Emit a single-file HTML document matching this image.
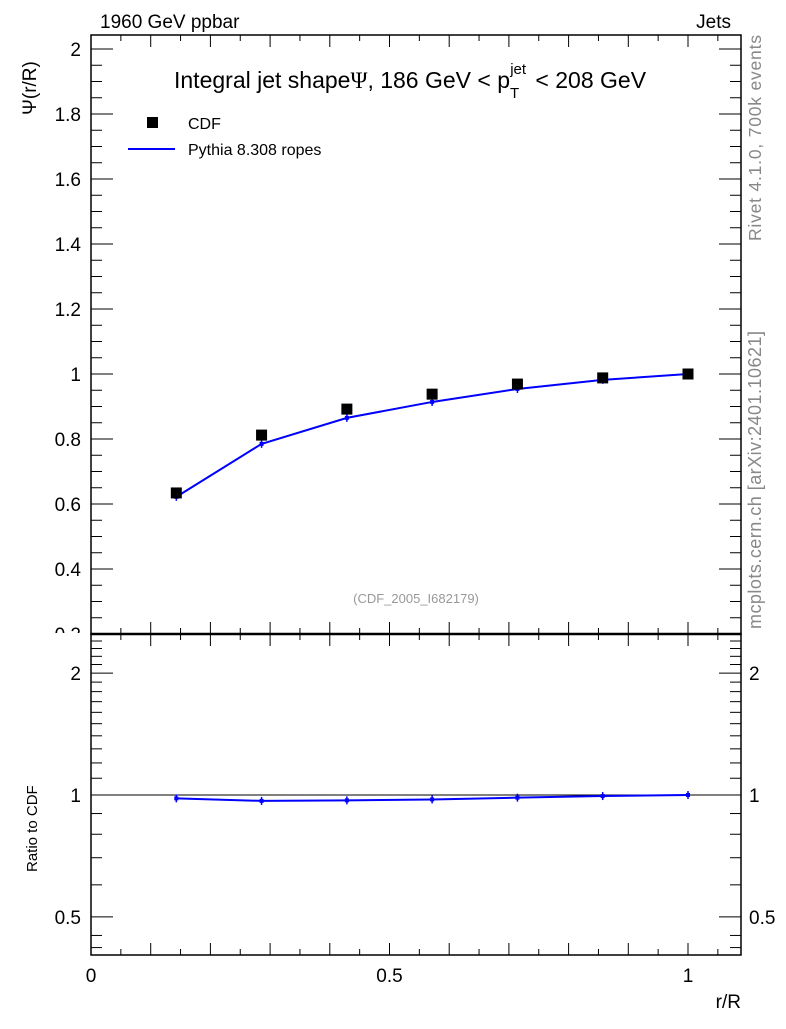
<!DOCTYPE html>
<html><head><meta charset="utf-8"><style>
body{margin:0;background:#fff;font-family:"Liberation Sans",sans-serif}
svg text{font-family:"Liberation Sans",sans-serif}
</style></head><body>
<svg id="c" width="786" height="1024" xmlns="http://www.w3.org/2000/svg">
<text x="100" y="28" font-size="19">1960 GeV ppbar</text>
<text x="731" y="28" font-size="19" text-anchor="end">Jets</text>
<text x="174" y="88" font-size="23">Integral jet shape<tspan font-family="Liberation Serif">Ψ</tspan>, 186 GeV &lt; p<tspan dy="10" font-size="15">T</tspan><tspan dx="-9" dy="-24" font-size="15">jet</tspan><tspan dx="3" dy="14"> &lt; 208 GeV</tspan></text>
<text x="416" y="603" font-size="13" fill="#999" text-anchor="middle">(CDF_2005_I682179)</text>
<text transform="translate(761,241) rotate(-90)" font-size="17.5" fill="#888" textLength="206">Rivet 4.1.0,  700k events</text>
<text transform="translate(761,629) rotate(-90)" font-size="18" fill="#888" textLength="298">mcplots.cern.ch [arXiv:2401.10621]</text>
<text transform="translate(36,115) rotate(-90)" font-size="19">Ψ(r/R)</text>
<text transform="translate(37,872) rotate(-90)" font-size="15">Ratio to CDF</text>
<text x="741" y="1008" font-size="19" text-anchor="end">r/R</text>
<rect x="147" y="117" width="11" height="11" fill="#000"/>
<text x="188" y="129" font-size="16">CDF</text>
<line x1="128" y1="149" x2="175" y2="149" stroke="#00f" stroke-width="2"/>
<text x="188" y="155" font-size="16">Pythia 8.308 ropes</text>
<g id="g"></g>
</svg>
<script>
const xs=[0.1429,0.2857,0.4286,0.5714,0.7143,0.8571,1.0];
const cdf=[0.634,0.812,0.892,0.938,0.969,0.988,1.0];
const pythia=[0.622,0.785,0.865,0.914,0.954,0.982,1.0];
const ratio=[0.981,0.967,0.970,0.975,0.985,0.994,1.0];
const yTicks=[0.2,0.4,0.6,0.8,1,1.2,1.4,1.6,1.8,2];
const yTickLabels=["0.2","0.4","0.6","0.8","1","1.2","1.4","1.6","1.8","2"];
const rTicks=[0.5,1,2];
const rTickLabels=["0.5","1","2"];
const xTicks=[0,0.5,1];
const xTickLabels=["0","0.5","1"];
const L=91,R=741,T=35,B=634,RT=634,RB=955;
const X=v=>L+(v-0)*597;
const Y=v=>374-(v-1)*325;
const RY=v=>795-Math.log10(v)*405;
const g=document.getElementById('g');
const NS='http://www.w3.org/2000/svg';
function mk(t,a,name){const e=document.createElementNS(NS,t);for(const k in a)e.setAttribute(k,a[k]);


g.appendChild(e);return e;}
function ln(x1,y1,x2,y2,name,w,c){return mk('line',{x1,y1,x2,y2,stroke:c||'#000','stroke-width':w||1},name);}
function tx(x,y,s,anchor,size,name){const e=mk('text',{x,y,'font-size':size||19,'text-anchor':anchor},name);e.textContent=s;return e;}
mk('rect',{x:L,y:T,width:R-L,height:B-T,fill:'none',stroke:'#000','stroke-width':1.5},'main-frame');
mk('rect',{x:L,y:RT,width:R-L,height:RB-RT,fill:'none',stroke:'#000','stroke-width':1.5},'ratio-frame');
for(let v=0.2;v<=2.041;v+=0.05){const y=Y(v);const maj=Math.abs(v*10-Math.round(v*10))<1e-6&&Math.round(v*10)%2==0;const len=maj?22:11;
ln(L,y,L+len,y,'y-tick');ln(R,y,R-len,y,'y-tick-right');}
yTicks.forEach((v,i)=>tx(L-10,Y(v)+7,yTickLabels[i],'end',19,'y-tick-label'));
mk('rect',{x:40,y:B-1,width:50,height:12,fill:'#fff'},'label-mask');
ln(L,B,R,B,'panel-divider',2.5);
for(let k=0;k<=21;k++){const v=k*0.05;const x=X(v);if(x>R)break;const len=k%2==0?12:6;
ln(x,B,x,B-len,'x-tick');ln(x,T,x,T+len,'x-tick-top');ln(x,RB,x,RB-len,'ratio-x-tick');ln(x,RT,x,RT+len,'ratio-x-tick-top');}
xTicks.forEach((v,i)=>tx(X(v),982,xTickLabels[i],'middle',19,'x-tick-label'));
[0.5,0.6,0.7,0.8,0.9,1,1.1,1.2,1.3,1.4,1.5,1.6,1.7,1.8,1.9,2,2.1,2.2,2.3,2.4,2.5].forEach(v=>{const y=RY(v);if(y<RT||y>RB)return;const maj=rTicks.includes(v);const len=maj?22:11;
ln(L,y,L+len,y,'ratio-y-tick');ln(R,y,R-len,y,'ratio-y-tick-right');});
[0.45,0.42].forEach(v=>{const y=RY(v);ln(L,y,L+11,y,'ratio-y-tick');ln(R,y,R-11,y,'ratio-y-tick-right');});
rTicks.forEach((v,i)=>{tx(L-10,RY(v)+7,rTickLabels[i],'end',19,'ratio-y-tick-label');tx(R+8,RY(v)+7,rTickLabels[i],'start',19,'ratio-y-tick-label-right');});
ln(L,RY(1),R,RY(1),'ratio-unity-line',1);
mk('polyline',{points:xs.map((x,i)=>X(x)+','+Y(pythia[i])).join(' '),fill:'none',stroke:'#00f','stroke-width':2},'pythia-line');
xs.forEach((x,i)=>{ln(X(x),Y(pythia[i])-4,X(x),Y(pythia[i])+4,'pythia-error',1.5,'#00f');mk('rect',{x:X(x)-2,y:Y(pythia[i])-2,width:4,height:4,fill:'#00f'},'pythia-point');});
xs.forEach((x,i)=>mk('rect',{x:X(x)-5.5,y:Y(cdf[i])-5.5,width:11,height:11,fill:'#000'},'cdf-point'));
mk('polyline',{points:xs.map((x,i)=>X(x)+','+RY(ratio[i])).join(' '),fill:'none',stroke:'#00f','stroke-width':2},'ratio-line');
xs.forEach((x,i)=>{ln(X(x),RY(ratio[i])-4,X(x),RY(ratio[i])+4,'ratio-error',1.5,'#00f');mk('rect',{x:X(x)-2,y:RY(ratio[i])-2,width:4,height:4,fill:'#00f'},'ratio-point');});
</script>
</body></html>
